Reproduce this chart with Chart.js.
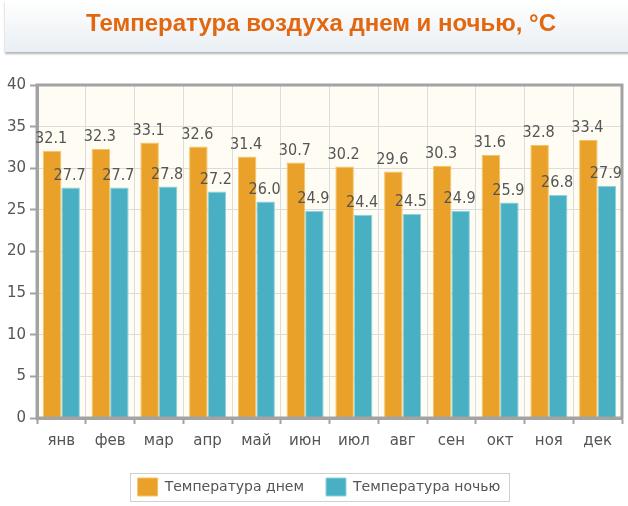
<!DOCTYPE html>
<html>
<head>
<meta charset="utf-8">
<script src="https://cdn.jsdelivr.net/npm/chart.js@4"></script>
<style>
  html, body { margin: 0; padding: 0; background: #fff; }
  #wrap { position: relative; width: 628px; height: 506px; overflow: hidden; }
  #head {
    position: absolute; left: 5px; top: 0; width: 640px; height: 52px;
    background: linear-gradient(#ffffff, #e9eff4);
    box-shadow: 0 2px 2px #b5b5b5;
    z-index: 2;
  }
  #head span {
    position: absolute; left: 81px; top: 9px;
    font: bold 24px "Liberation Sans", Arial, sans-serif; color: #e2670f;
    white-space: nowrap;
  }
  canvas { position: absolute; left: 0; top: 0; }
</style>
</head>
<body>
<div id="wrap">
  <div id="head"><span>Температура воздуха днем и ночью, °C</span></div>
  <canvas id="myChart" width="628" height="506"></canvas>
</div>
<script>
var months = ["янв", "фев", "мар", "апр", "май", "июн", "июл", "авг", "сен", "окт", "ноя", "дек"];
var dayTemp = [32.1, 32.3, 33.1, 32.6, 31.4, 30.7, 30.2, 29.6, 30.3, 31.6, 32.8, 33.4];
var nightTemp = [27.7, 27.7, 27.8, 27.2, 26.0, 24.9, 24.4, 24.5, 24.9, 25.9, 26.8, 27.9];
var yTicks = [0, 5, 10, 15, 20, 25, 30, 35, 40];

// background + frame of plot area, value labels, legend box
var frame = {
  id: "frame",
  afterLayout: function (chart) {
    // nudge legend a bit to the right, like the original
    var lg = chart.legend, dx = 8;
    lg.left += dx; lg.right += dx;
    (lg.legendHitBoxes || []).forEach(function (h) { h.left += dx; });
  },
  beforeDraw: function (chart) {
    var a = chart.chartArea, c = chart.ctx;
    c.save();
    c.fillStyle = "#fffcf4";
    c.fillRect(a.left, a.top, a.right - a.left, a.bottom - a.top);
    c.restore();
  },
  afterDatasetsDraw: function (chart) {
    var a = chart.chartArea, c = chart.ctx;
    c.save();
    c.strokeStyle = "#a3a3a3";
    c.lineWidth = 3;
    c.strokeRect(a.left, a.top, a.right - a.left, a.bottom - a.top);
    c.restore();
    // value labels
    c.save();
    c.font = "16px 'DejaVu Sans Condensed', 'DejaVu Sans', sans-serif";
    c.fillStyle = "#555";
    c.textAlign = "center";
    c.textBaseline = "bottom";
    chart.data.datasets.forEach(function (ds, i) {
      chart.getDatasetMeta(i).data.forEach(function (el, j) {
        c.fillText(ds.data[j].toFixed(1), el.x - 1, el.y - 4);
      });
    });
    c.restore();
  },
  afterDraw: function (chart) {
    var boxes = chart.legend.legendHitBoxes, c = chart.ctx;
    if (!boxes || !boxes.length) return;
    var l = Infinity, r = -Infinity, t = Infinity, b = -Infinity;
    boxes.forEach(function (h) {
      l = Math.min(l, h.left); r = Math.max(r, h.left + h.width);
      t = Math.min(t, h.top); b = Math.max(b, h.top + h.height);
    });
    c.save();
    c.strokeStyle = "#d0d0d0";
    c.lineWidth = 1;
    c.strokeRect(Math.round(l - 8) + 0.5, Math.round(t - 5) + 0.5, Math.round(r - l + 16), Math.round(b - t + 10));
    c.restore();
  }
};

new Chart("myChart", {
  type: "bar",
  data: {
    labels: months,
    datasets: [{
      label: "Температура днем",
      data: dayTemp,
      backgroundColor: "#e9a12a",
      borderColor: "#f3c467",
      borderWidth: 1,
      categoryPercentage: 0.76,
      barPercentage: 1
    }, {
      label: "Температура ночью",
      data: nightTemp,
      backgroundColor: "#49b0c3",
      borderColor: "#8fd2de",
      borderWidth: 1,
      categoryPercentage: 0.76,
      barPercentage: 1
    }]
  },
  options: {
    responsive: false,
    animation: false,
    layout: { padding: { top: 85, left: 0, right: 6, bottom: 0 } },
    plugins: {
      title: { display: false },
      tooltip: { enabled: false },
      legend: {
        position: "bottom",
        labels: {
          boxWidth: 20,
          boxHeight: 18,
          padding: 22,
          color: "#555",
          font: { size: 14, family: "'DejaVu Sans', sans-serif" }
        }
      }
    },
    scales: {
      y: {
        min: 0,
        max: 40,
        afterFit: function (s) { s.width = 37; },
        afterBuildTicks: function (s) { s.ticks = yTicks.map(function (v) { return { value: v }; }); },
        ticks: {
          color: "#555",
          padding: 4,
          font: { size: 15, family: "'DejaVu Sans', sans-serif" }
        },
        grid: { color: "#dcdcdc", tickLength: 7, tickColor: "#a3a3a3", tickWidth: 2 },
        border: { color: "#a3a3a3", width: 3 }
      },
      x: {
        afterFit: function (s) { s.height = 38; },
        ticks: {
          color: "#555",
          padding: 8,
          font: { size: 15, family: "'DejaVu Sans', sans-serif" }
        },
        grid: { color: "#dcdcdc", tickLength: 6, tickColor: "#a3a3a3", tickWidth: 2 },
        border: { color: "#a3a3a3", width: 3 }
      }
    }
  },
  plugins: [frame]
});
</script>
</body>
</html>
